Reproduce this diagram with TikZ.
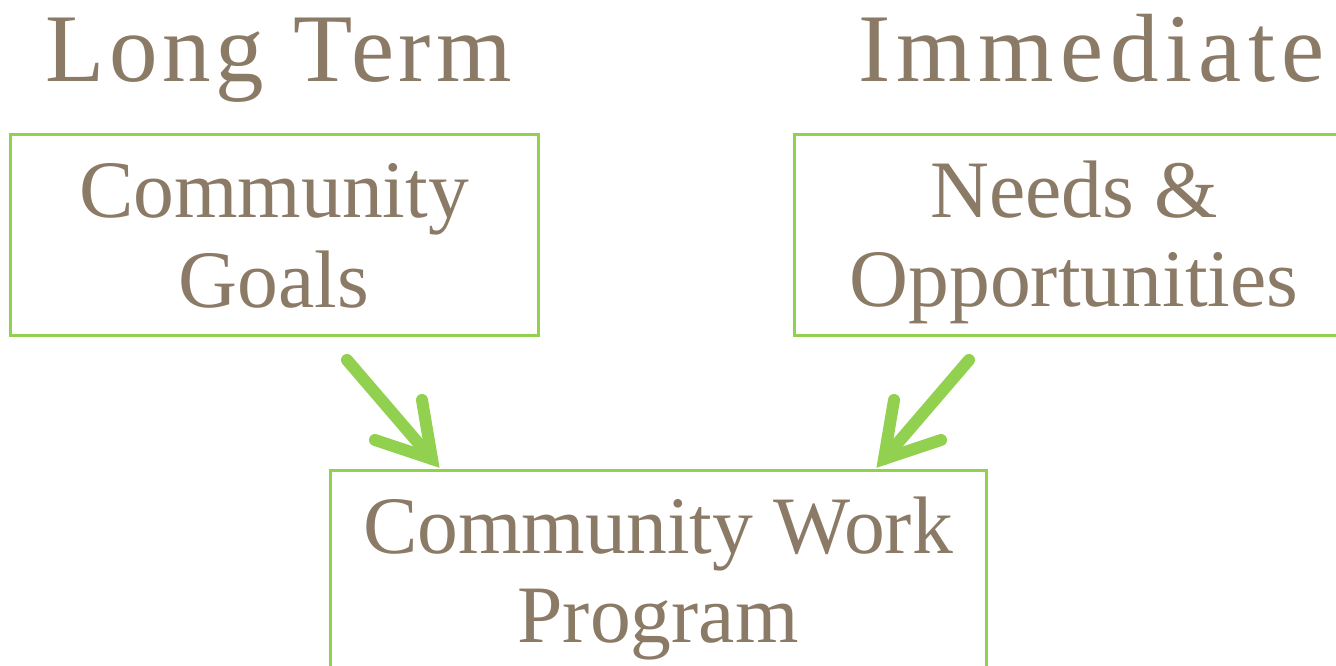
\documentclass[tikz,border=0pt]{standalone}
\usepackage{fontspec}
\setmainfont{Liberation Serif}
\newfontfamily\titlefont[LetterSpace=5]{Liberation Serif}
\newfontfamily\titlefontwide[LetterSpace=6.7]{Liberation Serif}
\usetikzlibrary{calc}
\definecolor{txt}{HTML}{8B7A66}
\definecolor{grn}{HTML}{92D050}
\begin{document}
\begin{tikzpicture}[x=1pt,y=1pt,
  box/.style={draw=grn, line width=3pt, inner sep=0pt, outer sep=0pt},
  title/.style={text=txt, inner sep=0pt, anchor=base west, font=\titlefont\fontsize{97}{100}\selectfont},
  line/.style={text=txt, inner sep=0pt, anchor=base, font=\fontsize{81.6}{90}\selectfont},
  shaft/.style={draw=grn, line width=12pt, line cap=round},
  barb/.style={draw=grn, line width=12pt, line cap=round, line join=miter}]
\clip (0,0) rectangle (1336,-666);
\useasboundingbox (0,0) rectangle (1336,-666);
% titles
\node[title] (lt) at (45,-82) {Long Term};
\node[title, font=\titlefontwide\fontsize{97}{100}\selectfont] (im) at (858,-82) {Immediate};
% boxes
\node[box, minimum width=528, minimum height=200] (goalsbox) at (274,-235) {};
\node[box, minimum width=562, minimum height=200] (needsbox) at (1075,-235) {};
\node[box, minimum width=656, minimum height=220] (progbox) at (658,-580) {};
% box texts
\node[line] (g1) at (274,-217) {Community};
\node[line] (g2) at (274,-307) {Goals};
\node[line] (n1) at (1074,-217) {Needs \&};
\node[line] (n2) at (1074,-306) {Opportunities};
\node[line] (p1) at (658,-553) {Community Work};
\node[line] (p2) at (658,-642) {Program};
% arrows
\coordinate (a1s) at ($(goalsbox.south)+(73,-25)$);
\coordinate (a1t) at ($(progbox.north)+(-226,11)$);
\coordinate (a2s) at ($(goalsbox.south)+(695,-25)$);
\coordinate (a2t) at ($(progbox.north)+(226,11)$);
\draw[shaft] (a1s) -- (a1t);
\draw[barb] ($(a1t)+(-10,59)$) -- (a1t) -- ($(a1t)+(-57,19)$);
\draw[shaft] (a2s) -- (a2t);
\draw[barb] ($(a2t)+(10,59)$) -- (a2t) -- ($(a2t)+(57,19)$);
\end{tikzpicture}
\end{document}
